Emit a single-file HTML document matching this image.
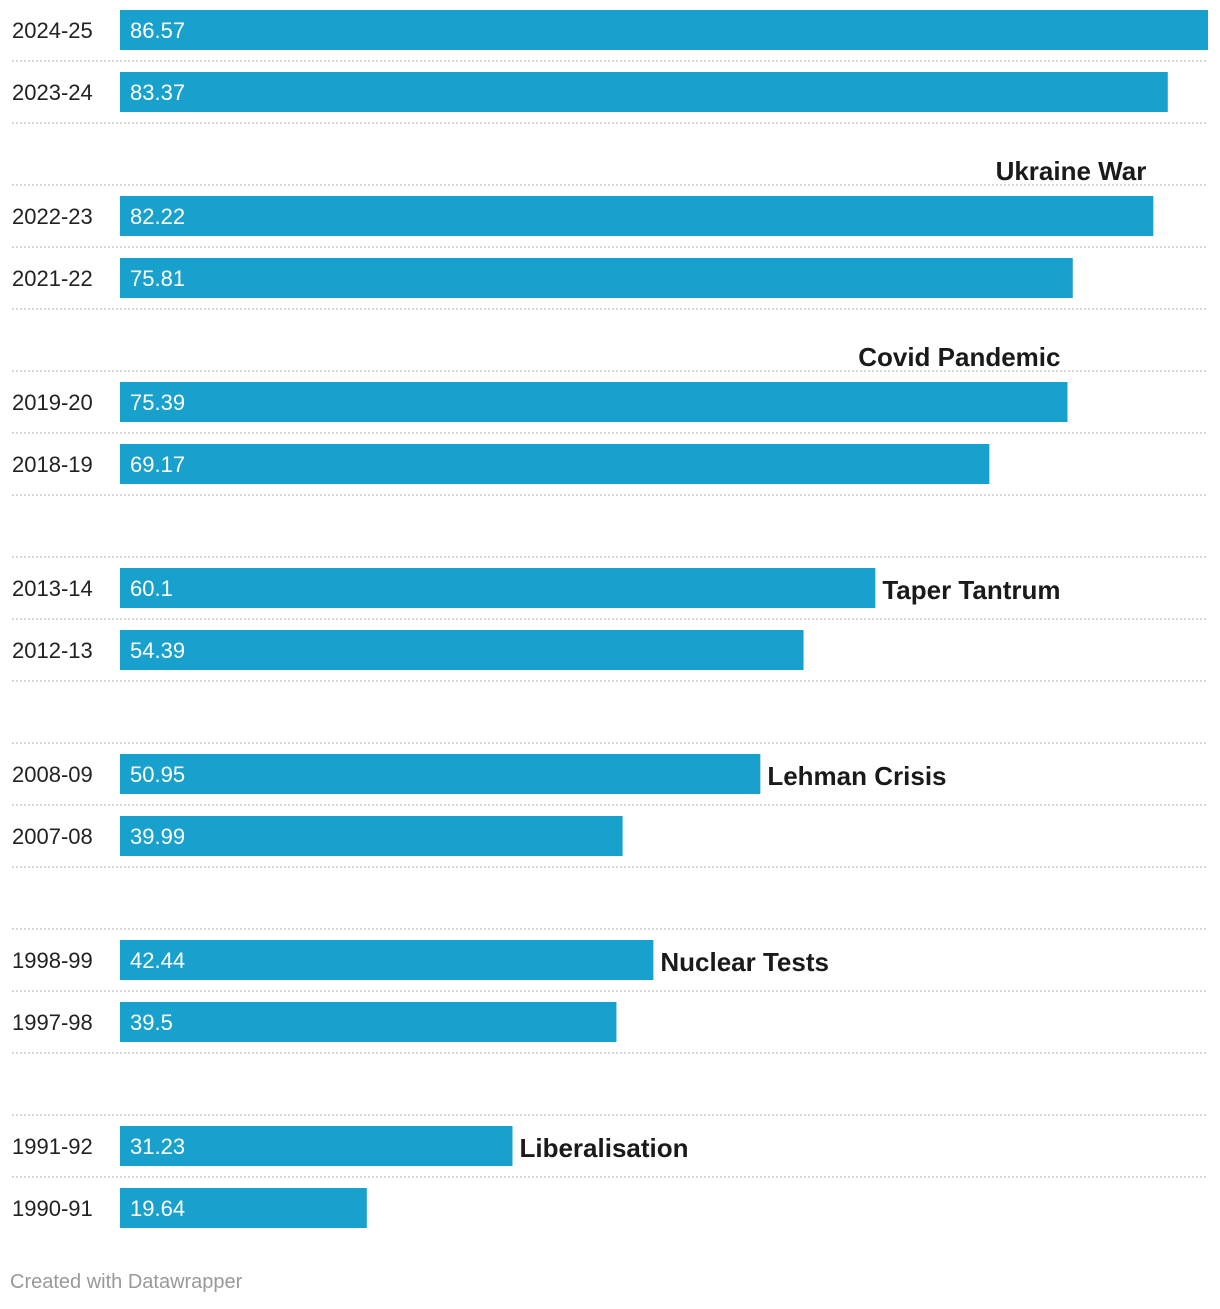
<!DOCTYPE html>
<html><head><meta charset="utf-8">
<style>
body{margin:0;background:#fff;width:1220px;height:1304px;overflow:hidden;font-family:"Liberation Sans",sans-serif;}
svg text{font-family:"Liberation Sans",sans-serif;}
</style></head>
<body>
<svg id="chart" width="1220" height="1304" xmlns="http://www.w3.org/2000/svg"></svg>
<script>
const categories=["2024-25","2023-24","","2022-23","2021-22","","2019-20","2018-19","","2013-14","2012-13","","2008-09","2007-08","","1998-99","1997-98","","1991-92","1990-91"];
const values=[86.57,83.37,null,82.22,75.81,null,75.39,69.17,null,60.1,54.39,null,50.95,39.99,null,42.44,39.5,null,31.23,19.64];
const valueLabels=["86.57","83.37","","82.22","75.81","","75.39","69.17","","60.1","54.39","","50.95","39.99","","42.44","39.5","","31.23","19.64"];
const annotations=[
 {text:"Ukraine War",slot:2,anchorValue:82.22,mode:"above"},
 {text:"Covid Pandemic",slot:5,anchorValue:75.39,mode:"above"},
 {text:"Taper Tantrum",slot:9,anchorValue:60.1,mode:"side"},
 {text:"Lehman Crisis",slot:12,anchorValue:50.95,mode:"side"},
 {text:"Nuclear Tests",slot:15,anchorValue:42.44,mode:"side"},
 {text:"Liberalisation",slot:18,anchorValue:31.23,mode:"side"}
];
const NS="http://www.w3.org/2000/svg";
const svg=document.getElementById("chart");
const x0=120,xMax=86.57,xW=1088;
const xs=v=>x0+v/xMax*xW;
const yc=i=>30+i*62;
function mk(tag,attrs){const e=document.createElementNS(NS,tag);for(const k in attrs)e.setAttribute(k,attrs[k]);svg.appendChild(e);return e;}
categories.forEach((c,i)=>{
 if(i<categories.length-1){
  const l=mk("line",{x1:12,x2:1208,y1:yc(i)+31,y2:yc(i)+31,stroke:"#cccccc","stroke-width":1.5,"stroke-dasharray":"2,2"});
  
  
 }
 if(values[i]==null)return;
 const t=mk("text",{x:12,y:yc(i)+8,"font-size":22,fill:"#222"});
 t.textContent=c;
 
 
 const r=mk("rect",{x:x0,y:yc(i)-20,width:xs(values[i])-x0,height:40,fill:"#18a1cd"});
 
 
 const v=mk("text",{x:130,y:yc(i)+8,"font-size":22,fill:"#fff"});
 v.textContent=valueLabels[i];
 
 
});
annotations.forEach(a=>{
 let t;
 if(a.mode==="above"){
  t=mk("text",{x:xs(a.anchorValue)-7,y:yc(a.slot)+26,"font-size":26,"font-weight":"bold",fill:"#1a1a1a","text-anchor":"end"});
 }else{
  t=mk("text",{x:xs(a.anchorValue)+7,y:yc(a.slot)+11,"font-size":26,"font-weight":"bold",fill:"#1a1a1a"});
 }
 t.textContent=a.text;
 
 
});
const f=mk("text",{x:10,y:1288,"font-size":20,fill:"#999"});
f.textContent="Created with Datawrapper";


</script>
</body></html>
